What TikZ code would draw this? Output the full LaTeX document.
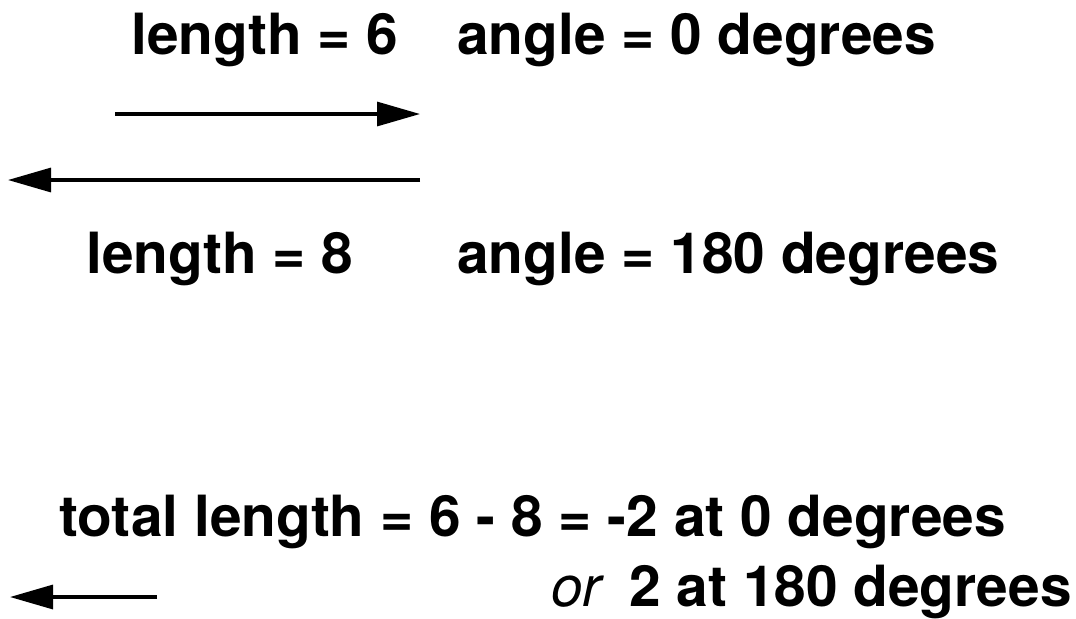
\documentclass[tikz,border=0pt]{standalone}
\usepackage{fontspec}
\setmainfont{TeX Gyre Heros}
\usetikzlibrary{arrows.meta, positioning}

\begin{document}
\begin{tikzpicture}[
  x=0.5pt, y=-0.5pt,
  label/.style={inner sep=0pt, anchor=base west, font=\fontsize{28.4pt}{32pt}\selectfont\bfseries},
  aside/.style={inner sep=0pt, anchor=base west, font=\fontsize{28.4pt}{32pt}\selectfont\itshape},
  arrow/.style={line width=1.6pt, -{Triangle[length=21.5pt, width=12pt]}}
]
\useasboundingbox (0,0) rectangle (1076,618);

% First vector
\node (len6) [label] at (131,54) {length = 6};
\node (ang0) [label] at (457,54) {angle = 0 degrees};
\coordinate (v6s) at (115,114);
\coordinate (v6e) at (420,114);

% Second vector
\coordinate (v8s) at (420,180);
\coordinate (v8e) at (8,180);
\node (len8) [label] at (86,273) {length = 8};
\node (ang180) [label] at (457,273) {angle = 180 degrees};

% Sum
\node (total) [label] at (59,536) {total length = 6 - 8 = -2 at 0 degrees};
\node (alt_or) [aside] at (551,606) {or};
\node (alt) [label] at (629,606) {2 at 180 degrees};
\coordinate (vts) at (157,597);
\coordinate (vte) at (10,597);

% Arrows
\draw [arrow] (v6s) -- (v6e);
\draw [arrow] (v8s) -- (v8e);
\draw [arrow] (vts) -- (vte);
\end{tikzpicture}
\end{document}
